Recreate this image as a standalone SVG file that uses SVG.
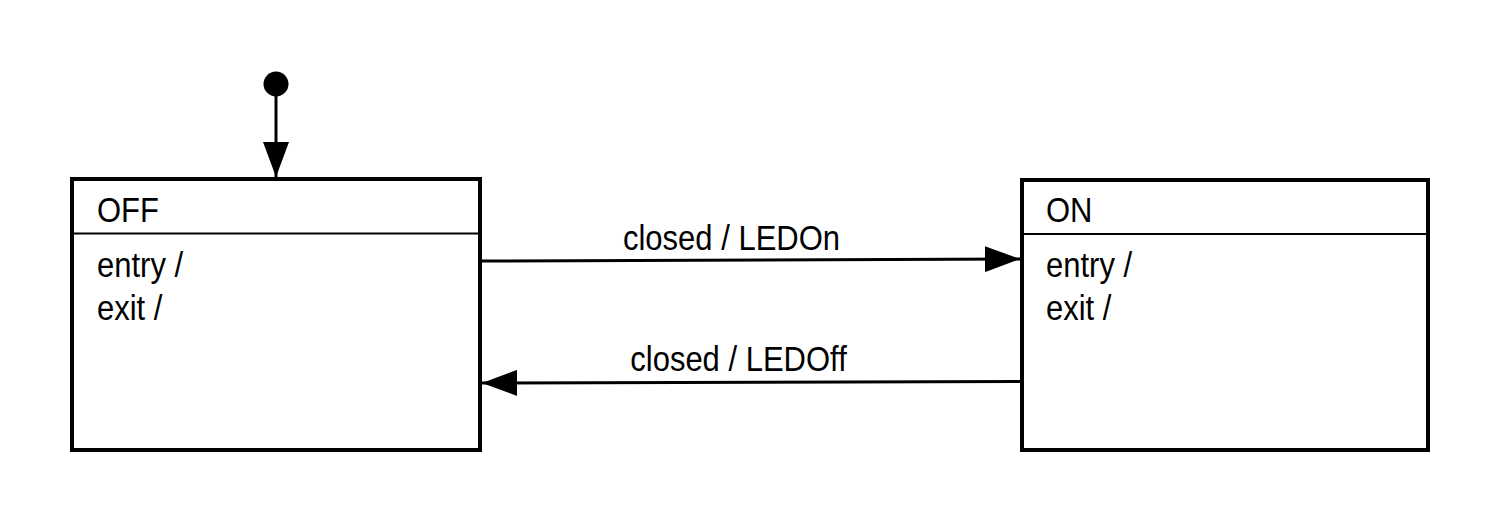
<svg xmlns="http://www.w3.org/2000/svg" width="1500" height="523" viewBox="0 0 1500 523">
  <style>
    .box { fill: #ffffff; stroke: #000000; stroke-width: 4; }
    .div { stroke: #000000; stroke-width: 2; }
    .txt { font-family: "Liberation Sans", Arial, sans-serif; font-size: 35px; fill: #000000; }
    .lbl { font-family: "Liberation Sans", Arial, sans-serif; font-size: 35px; fill: #000000; text-anchor: middle; }
    .edge { stroke: #000000; stroke-width: 3; fill: none; marker-end: url(#arrow); }
  </style>
  <defs>
    <marker id="arrow" viewBox="0 0 35 26" refX="35" refY="13" markerWidth="35" markerHeight="26" markerUnits="userSpaceOnUse" orient="auto">
      <path d="M0,0 L35,13 L0,26 Z" fill="#000000"/>
    </marker>
  </defs>
  <rect width="1500" height="523" fill="#ffffff"/>

  <g id="initial">
    <circle cx="276" cy="84" r="12.5" fill="#000000"/>
  </g>

  <g id="state-off">
    <rect class="box" x="72" y="179" width="408" height="271"/>
    <line class="div" x1="72" y1="233.5" x2="480" y2="233.5"/>
    <text class="txt" transform="translate(97,222) scale(0.886,1)">OFF</text>
    <text class="txt" transform="translate(97,277) scale(0.886,1)">entry /</text>
    <text class="txt" transform="translate(97,320) scale(0.886,1)">exit /</text>
  </g>

  <g id="state-on">
    <rect class="box" x="1022" y="180" width="406" height="270"/>
    <line class="div" x1="1022" y1="234" x2="1428" y2="234"/>
    <text class="txt" transform="translate(1046,222) scale(0.886,1)">ON</text>
    <text class="txt" transform="translate(1046,277) scale(0.886,1)">entry /</text>
    <text class="txt" transform="translate(1046,320) scale(0.886,1)">exit /</text>
  </g>

  <g id="connectors">
    <line class="edge" x1="276" y1="96" x2="276" y2="177"/>
    <line class="edge" x1="482" y1="261" x2="1020" y2="259"/>
    <line class="edge" x1="1020" y1="381.5" x2="482" y2="383"/>
    <text class="lbl" transform="translate(731.5,250) scale(0.886,1)">closed / LEDOn</text>
    <text class="lbl" transform="translate(738.5,371) scale(0.886,1)">closed / LEDOff</text>
  </g>
</svg>
